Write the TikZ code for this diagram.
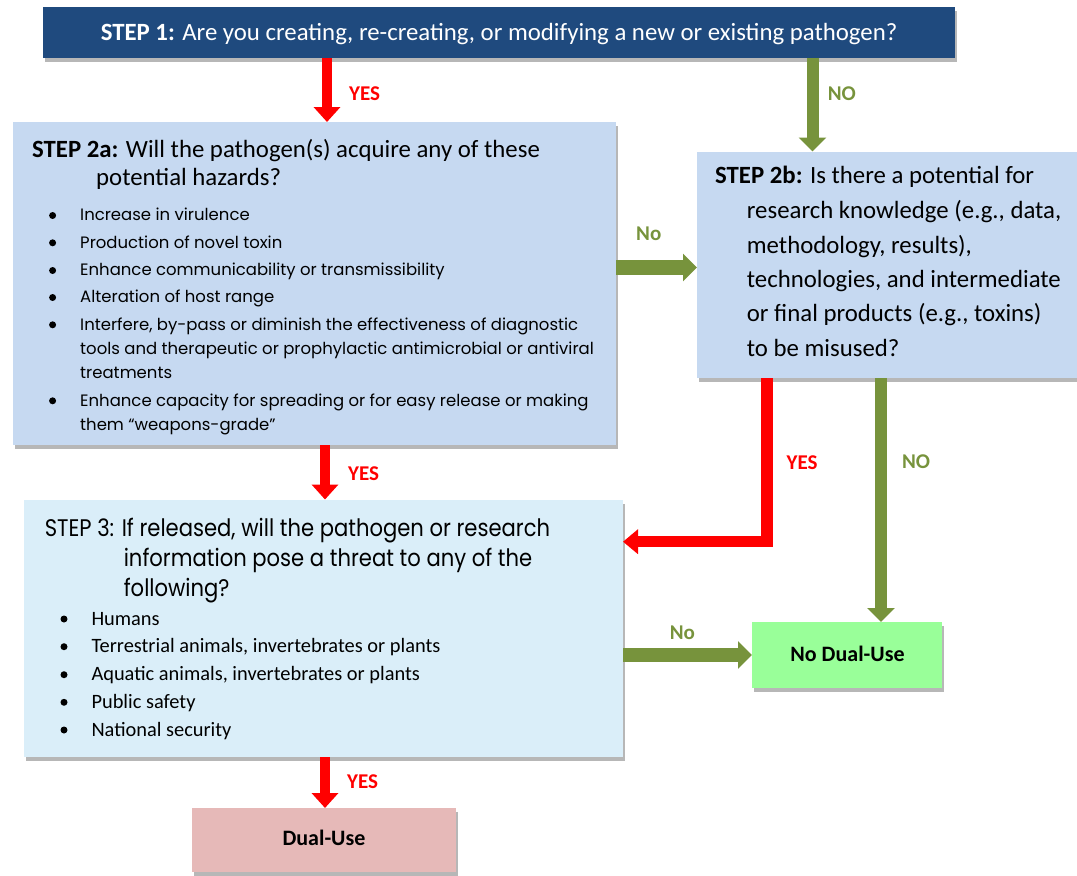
\documentclass[tikz,border=0pt]{standalone}
\usepackage{fontspec}
\setmainfont{Carlito}
\newfontfamily\gothic{Poppins}
\newfontfamily\twcen[FakeStretch=0.88]{Poppins}
\usetikzlibrary{arrows.meta,shadows}
\definecolor{stepone}{HTML}{1F4A7E}
\definecolor{steptwo}{HTML}{C6D9F1}
\definecolor{stepthree}{HTML}{DAEEF9}
\definecolor{okgreen}{HTML}{77933C}
\definecolor{nofill}{HTML}{99FF99}
\definecolor{dualfill}{HTML}{E6B9B8}
\definecolor{alarm}{HTML}{FF0000}
\begin{document}
\begin{tikzpicture}[x=1pt,y=-1pt,
  shadowed/.style={drop shadow={shadow xshift=2pt,shadow yshift=-4pt,fill=black!70,opacity=0.4}},
  box/.style={rectangle,inner sep=0pt,outer sep=0pt,anchor=north west,shadowed},
  redarrow/.style={draw=alarm,line width=10pt,-{Triangle[width=26pt,length=15pt]}},
  greenarrow/.style={draw=okgreen,line width=12pt,-{Triangle[width=27pt,length=14pt]}},
  lbl/.style={font=\fontsize{21}{24}\selectfont\bfseries,anchor=base west,inner sep=0pt},
  redlbl/.style={lbl,text=alarm},
  greenlbl/.style={lbl,text=okgreen},
  txt/.style={anchor=base west,inner sep=0pt},
  calbig/.style={font=\fontsize{24.8}{28}\selectfont},
  goth/.style={font=\gothic\fontsize{16.5}{20}\selectfont},
  twc/.style={font=\twcen\fontsize{24}{28}\selectfont},
  calmid/.style={font=\fontsize{20.4}{23}\selectfont},
  bulletdot/.style={circle,fill=black,inner sep=0pt,minimum size=7pt}]
\useasboundingbox (0,0) rectangle (1077,876);

% boxes
\node[box,fill=stepone,minimum width=912pt,minimum height=51pt] (s1) at (43,7) {};
\node[box,fill=steptwo,minimum width=603pt,minimum height=323pt] (s2a) at (13,122) {};
\node[box,fill=steptwo,minimum width=400pt,minimum height=226.5pt] (s2b) at (697,151.5) {};
\node[box,fill=stepthree,minimum width=599pt,minimum height=257.5pt] (s3) at (24,499.5) {};
\node[box,fill=nofill,minimum width=190pt,minimum height=66pt] (nodual) at (752,622) {};
\node[box,fill=dualfill,minimum width=264pt,minimum height=64pt] (dual) at (192,808) {};

% step 1 text
\node[anchor=base,inner sep=0pt,calbig,text=white] (t1) at (499,40.7)
  {\textbf{STEP 1:} Are you creating, re-creating, or modifying a new or existing pathogen?};

% step 2a text
\node[txt,calbig] (a0) at (32,157) {\textbf{STEP 2a:} Will the pathogen(s) acquire any of these};
\node[txt,calbig] (a00) at (96,185) {potential hazards?};
\node[txt,goth] (a1) at (80,220.7) {Increase in virulence};
\node[txt,goth] (a2) at (80,248) {Production of novel toxin};
\node[txt,goth] (a3) at (80,275.7) {Enhance communicability or transmissibility};
\node[txt,goth] (a4) at (80,302.7) {Alteration of host range};
\node[txt,goth] (a5) at (80,330) {Interfere, by-pass or diminish the effectiveness of diagnostic};
\node[txt,goth] (a6) at (80,354) {tools and therapeutic or prophylactic antimicrobial or antiviral};
\node[txt,goth] (a7) at (80,378) {treatments};
\node[txt,goth] (a8) at (80,406) {Enhance capacity for spreading or for easy release or making};
\node[txt,goth] (a9) at (80,430) {them “weapons-grade”};
\node[bulletdot] (ab1) at (52.6,215.5) {};
\node[bulletdot] (ab2) at (52.6,242.8) {};
\node[bulletdot] (ab3) at (52.6,270.5) {};
\node[bulletdot] (ab4) at (52.6,297.5) {};
\node[bulletdot] (ab5) at (52.6,324.8) {};
\node[bulletdot] (ab6) at (52.6,400.8) {};

% step 2b text
\node[txt,calbig] (b0) at (715,183.3) {\textbf{STEP 2b:} Is there a potential for};
\node[txt,calbig] (b1) at (746.7,218.3) {research knowledge (e.g., data,};
\node[txt,calbig] (b2) at (746.7,253.3) {methodology, results),};
\node[txt,calbig] (b3) at (746.7,287.3) {technologies, and intermediate};
\node[txt,calbig] (b4) at (746.7,321.7) {or final products (e.g., toxins)};
\node[txt,calbig] (b5) at (746.7,356) {to be misused?};

% step 3 text
\node[txt,twc] (c0) at (44.6,536.7) {STEP 3: If released, will the pathogen or research};
\node[txt,twc] (c01) at (123.6,566.7) {information pose a threat to any of the};
\node[txt,twc] (c02) at (123.6,596) {following?};
\node[txt,calmid] (c1) at (91.3,625) {Humans};
\node[txt,calmid] (c2) at (91.3,652.7) {Terrestrial animals, invertebrates or plants};
\node[txt,calmid] (c3) at (91.3,680.7) {Aquatic animals, invertebrates or plants};
\node[txt,calmid] (c4) at (91.3,708.3) {Public safety};
\node[txt,calmid] (c5) at (91.3,736) {National security};
\node[bulletdot] (cb1) at (64,619) {};
\node[bulletdot] (cb2) at (64,646.7) {};
\node[bulletdot] (cb3) at (64,674.7) {};
\node[bulletdot] (cb4) at (64,702.3) {};
\node[bulletdot] (cb5) at (64,730) {};

% outcome texts
\node[anchor=base,inner sep=0pt,font=\fontsize{22}{26}\selectfont\bfseries] (ndt) at (847.5,661.7) {No Dual-Use};
\node[anchor=base,inner sep=0pt,font=\fontsize{22}{26}\selectfont\bfseries] (dt) at (324,845) {Dual-Use};

% connectors
\coordinate (xa) at (327,0);
\coordinate (xb) at (812.5,0);
\coordinate (xc) at (325,0);
\coordinate (xd) at (767,0);
\coordinate (xe) at (881,0);
\coordinate (ya) at (0,267.5);
\coordinate (yb) at (0,541.7);
\coordinate (yc) at (0,655);
\draw[redarrow] (s1.south -| xa) -- (s2a.north -| xa);
\draw[greenarrow] (s1.south -| xb) -- (s2b.north -| xb);
\draw[greenarrow,line width=15pt] (s2a.east |- ya) -- (s2b.west |- ya);
\draw[redarrow] (s2a.south -| xc) -- (s3.north -| xc);
\draw[redarrow,line width=11.5pt,-{Triangle[width=24pt,length=15pt]}] (s2b.south -| xd) |- (s3.east |- yb);
\draw[greenarrow] (s2b.south -| xe) -- (nodual.north -| xe);
\draw[greenarrow,line width=14pt] (s3.east |- yc) -- (nodual.west |- yc);
\draw[redarrow] (s3.south -| xc) -- (dual.north -| xc);

% labels
\node[redlbl] (l1) at (349,100) {YES};
\node[greenlbl] (l2) at (827.7,100.7) {NO};
\node[greenlbl] (l3) at (636,240.7) {No};
\node[redlbl] (l4) at (348,480) {YES};
\node[redlbl] (l5) at (786.4,469.3) {YES};
\node[greenlbl] (l6) at (901.8,468) {NO};
\node[greenlbl] (l7) at (669.6,639) {No};
\node[redlbl] (l8) at (347,788.3) {YES};
\end{tikzpicture}
\end{document}
